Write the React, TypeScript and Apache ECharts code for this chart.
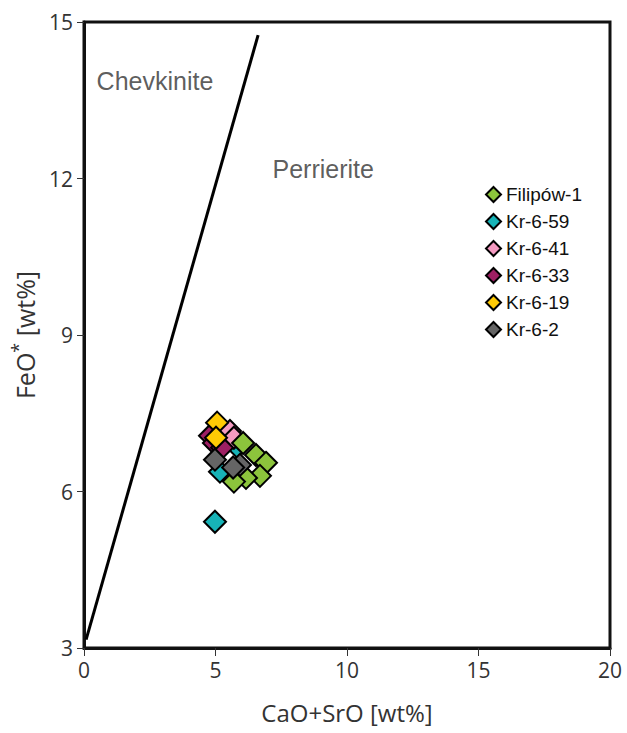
import React, { useEffect, useRef } from "react";
import * as echarts from "echarts";

const xTicks = [0, 5, 10, 15, 20];
const yTicks = [3, 6, 9, 12, 15];
const boundaryLine = [[0.08, 3.16], [6.62, 14.75]];
const fieldLabels = [
  { name: "Chevkinite", value: [0.46, 13.87] },
  { name: "Perrierite", value: [7.15, 12.18] },
];

const seriesNames = ["Filipów-1", "Kr-6-59", "Kr-6-41", "Kr-6-33", "Kr-6-19", "Kr-6-2"];
const seriesColors: Record<string, string> = {
  "Filipów-1": "#8cc43c",
  "Kr-6-59": "#17b3b7",
  "Kr-6-41": "#f49ac1",
  "Kr-6-33": "#9e1f63",
  "Kr-6-19": "#ffcb05",
  "Kr-6-2": "#656565",
};
const filipow1 = [[6.05, 6.93], [6.54, 6.70], [6.92, 6.55], [6.69, 6.30], [6.16, 6.26], [5.70, 6.19]];
const kr659 = [[5.82, 6.86], [5.17, 6.38], [4.98, 5.42]];
const kr641 = [[5.55, 7.16], [5.70, 7.03]];
const kr633 = [[4.79, 7.07], [4.94, 6.93], [5.25, 6.84]];
const kr619 = [[5.06, 7.32], [5.02, 7.03]];
const kr62 = [[4.98, 6.61], [5.93, 6.51], [5.67, 6.46]];

const drawOrder: [string, number[][]][] = [
  ["Kr-6-59", kr659],
  ["Kr-6-41", kr641],
  ["Kr-6-33", kr633],
  ["Filipów-1", filipow1],
  ["Kr-6-19", kr619],
  ["Kr-6-2", kr62],
];

export default function App() {
  const ref = useRef<HTMLDivElement>(null);
  useEffect(() => {
    if (!ref.current) return;
    const chart = echarts.init(ref.current, null, { renderer: "svg" });
    const axisFont = "'Open Sans', 'Noto Sans', sans-serif";
    const arial = "'Liberation Sans', Arial, sans-serif";
    chart.setOption({
      animation: false,
      backgroundColor: "#ffffff",
      grid: {
        left: 84,
        right: 17,
        top: 22,
        bottom: 85,
        show: true,
        borderColor: "#111",
        borderWidth: 3,
        backgroundColor: "transparent",
      },
      legend: {
        data: seriesNames,
        orient: "vertical",
        left: 480,
        top: 180,
        itemWidth: 15,
        itemHeight: 15,
        itemGap: 8,
        icon: "diamond",
        textStyle: { fontSize: 19, color: "#111", fontFamily: arial },
      },
      xAxis: {
        type: "value",
        min: 0,
        max: 20,
        interval: 5,
        name: "CaO+SrO [wt%]",
        nameLocation: "middle",
        nameGap: 52,
        nameTextStyle: { fontSize: 24, color: "#333", fontFamily: axisFont },
        axisLine: { show: true, lineStyle: { color: "#111", width: 3 } },
        axisTick: { show: true, length: 8, lineStyle: { color: "#333", width: 1 } },
        axisLabel: {
          fontSize: 21,
          color: "#333",
          margin: 11,
          fontFamily: axisFont,
          formatter: (v: number) => (xTicks.includes(v) ? String(v) : ""),
        },
        splitLine: { show: false },
      },
      yAxis: {
        type: "value",
        min: 3,
        max: 15,
        interval: 3,
        name: "FeO{sup|*} [wt%]",
        nameLocation: "middle",
        nameGap: 43,
        nameTextStyle: {
          fontSize: 25,
          color: "#333",
          fontFamily: axisFont,
          rich: {
            sup: { fontSize: 18, color: "#333", fontFamily: axisFont, padding: [0, 0, 14, 0] },
          },
        },
        axisLine: { show: true, lineStyle: { color: "#111", width: 3 } },
        axisTick: { show: true, length: 7, lineStyle: { color: "#333", width: 1 } },
        axisLabel: {
          fontSize: 21,
          color: "#333",
          margin: 11,
          fontFamily: axisFont,
          formatter: (v: number) => (yTicks.includes(v) ? String(v) : ""),
        },
        splitLine: { show: false },
      },
      series: [
        {
          name: "boundary",
          type: "line",
          data: boundaryLine,
          showSymbol: false,
          symbol: "none",
          lineStyle: { color: "#000", width: 3 },
          silent: true,
          z: 1,
        },
        {
          name: "fields",
          type: "scatter",
          data: fieldLabels,
          symbolSize: 1,
          itemStyle: { color: "transparent" },
          label: {
            show: true,
            position: "right",
            distance: 0,
            formatter: (p: any) => p.name,
            fontSize: 25,
            color: "#333",
            fontFamily: arial,
          },
          silent: true,
        },
        ...drawOrder.map(([name, data], i) => ({
          name,
          type: "scatter",
          data,
          symbol: "diamond",
          symbolSize: 22,
          itemStyle: { color: seriesColors[name], borderColor: "#000", borderWidth: 2, opacity: 1 },
          z: 3 + i,
        })),
      ],
    });
    return () => chart.dispose();
  }, []);
  return (
    <div
      ref={ref}
      style={{ position: "fixed", left: 0, top: 0, width: 627, height: 733, background: "#fff" }}
    />
  );
}
